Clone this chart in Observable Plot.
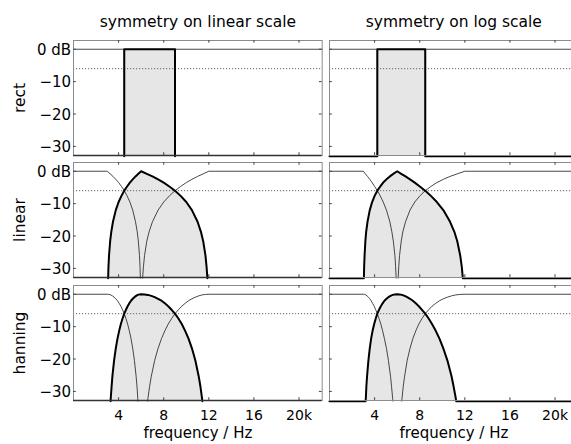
<!DOCTYPE html>
<html><head><meta charset="utf-8">
<script src="https://cdn.jsdelivr.net/npm/d3@7"></script>
<script src="https://cdn.jsdelivr.net/npm/@observablehq/plot@0.6"></script>
<style>
html,body{margin:0;padding:0;background:#fff;overflow:hidden;}
#chart{position:relative;width:571px;height:444px;overflow:hidden;background:#fff;}
#chart svg{position:absolute;overflow:visible;}
</style></head><body><div id="chart"></div>
<script>
// ---- labels / ticks ----
const columnTitles = ["symmetry on linear scale", "symmetry on log scale"];
const rowLabels = ["rect", "linear", "hanning"];
const xTicks = [4, 8, 12, 16, 20];
const xTickLabels = ["4", "8", "12", "16", "20k"];
const yTicks = [0, -10, -20, -30];
const yTickLabels = ["0 dB", "\u221210", "\u221220", "\u221230"];
const xLabel = "frequency / Hz";
const xDomain = [0, 22.05];     // kHz
const yDomain = [-32.8, 2.7];   // dB
const crossoverDb = [-6];
const floorDb = -33;

// ---- rect row ----  [kHz, dB]
const rectLinBand = [[4.5,-33],[4.5,0],[9,0],[9,-33]];
const rectLinLow  = [[0,0],[4.5,0],[4.5,-33]];
const rectLinHigh = [[9,-33],[9,0],[22.05,0]];
const rectLogBand = [[0,-33],[4.24,-33],[4.24,0],[8.49,0],[8.49,-33],[22.05,-33]];
const rectLogLow  = [[0,0],[4.24,0],[4.24,-33]];
const rectLogHigh = [[8.49,-33],[8.49,0],[22.05,0]];

// ---- linear row ----
const linLinBand = [[3.07,-33],[3.1,-29.5],[3.15,-26],[3.25,-21.6],[3.35,-18.7],[3.5,-15.6],[3.75,-12],[4,-9.5],[4.25,-7.6],[4.5,-6],[4.75,-4.7],[5,-3.5],[5.25,-2.5],[5.5,-1.6],[5.75,-0.8],[6,0],[6.5,-0.8],[7,-1.6],[7.5,-2.5],[8,-3.5],[8.5,-4.7],[9,-6],[9.5,-7.6],[10,-9.5],[10.5,-12],[11,-15.6],[11.3,-18.7],[11.5,-21.6],[11.7,-26],[11.8,-29.5],[11.87,-33]];
const linLinLow = [[0,0],[3,0],[3.25,-0.8],[3.5,-1.6],[3.75,-2.5],[4,-3.5],[4.25,-4.7],[4.5,-6],[4.75,-7.6],[5,-9.5],[5.25,-12],[5.5,-15.6],[5.65,-18.7],[5.75,-21.6],[5.85,-26],[5.9,-29.5],[5.93,-33]];
const linLinHigh = [[6.13,-33],[6.2,-29.5],[6.3,-26],[6.5,-21.6],[6.7,-18.7],[7,-15.6],[7.5,-12],[8,-9.5],[8.5,-7.6],[9,-6],[9.5,-4.7],[10,-3.5],[10.5,-2.5],[11,-1.6],[11.5,-0.8],[12,0],[22.05,0]];
const linLogBand = [[0,-33],[3.05,-33],[3.07,-29.5],[3.11,-26],[3.18,-21.6],[3.25,-18.7],[3.37,-15.6],[3.57,-12],[3.78,-9.5],[4,-7.6],[4.24,-6],[4.5,-4.7],[4.76,-3.5],[5.05,-2.5],[5.35,-1.6],[5.66,-0.8],[6,0],[6.36,-0.8],[6.74,-1.6],[7.14,-2.5],[7.56,-3.5],[8.01,-4.7],[8.49,-6],[8.99,-7.6],[9.52,-9.5],[10.09,-12],[10.69,-15.6],[11.07,-18.7],[11.33,-21.6],[11.59,-26],[11.73,-29.5],[11.82,-33],[22.05,-33]];
const linLogLow = [[0,0],[3,0],[3.18,-0.8],[3.37,-1.6],[3.57,-2.5],[3.78,-3.5],[4,-4.7],[4.24,-6],[4.5,-7.6],[4.76,-9.5],[5.05,-12],[5.35,-15.6],[5.53,-18.7],[5.66,-21.6],[5.8,-26],[5.86,-29.5],[5.91,-33]];
const linLogHigh = [[6.09,-33],[6.14,-29.5],[6.21,-26],[6.36,-21.6],[6.5,-18.7],[6.74,-15.6],[7.14,-12],[7.56,-9.5],[8.01,-7.6],[8.49,-6],[8.99,-4.7],[9.52,-3.5],[10.09,-2.5],[10.69,-1.6],[11.33,-0.8],[12,0],[22.05,0]];

// ---- hanning row ----
const hanLinBand = [[3.29,-33],[3.3,-32.2],[3.38,-28.4],[3.45,-25.3],[3.6,-20.4],[3.75,-16.7],[3.9,-13.7],[4.05,-11.3],[4.2,-9.2],[4.35,-7.5],[4.5,-6],[4.65,-4.8],[4.8,-3.7],[4.95,-2.8],[5.1,-2],[5.25,-1.4],[5.4,-0.9],[5.55,-0.5],[5.7,-0.2],[5.85,-0.05],[6,0],[6.3,-0.05],[6.6,-0.2],[6.9,-0.5],[7.2,-0.9],[7.5,-1.4],[7.8,-2],[8.1,-2.8],[8.4,-3.7],[8.7,-4.8],[9,-6],[9.3,-7.5],[9.6,-9.2],[9.9,-11.3],[10.2,-13.7],[10.5,-16.7],[10.8,-20.4],[11.1,-25.3],[11.25,-28.4],[11.4,-32.2],[11.43,-33]];
const hanLinLow = [[0,0],[3,0],[3.15,-0.05],[3.3,-0.2],[3.45,-0.5],[3.6,-0.9],[3.75,-1.4],[3.9,-2],[4.05,-2.8],[4.2,-3.7],[4.35,-4.8],[4.5,-6],[4.65,-7.5],[4.8,-9.2],[4.95,-11.3],[5.1,-13.7],[5.25,-16.7],[5.4,-20.4],[5.55,-25.3],[5.63,-28.4],[5.7,-32.2],[5.71,-33]];
const hanLinHigh = [[6.57,-33],[6.6,-32.2],[6.75,-28.4],[6.9,-25.3],[7.2,-20.4],[7.5,-16.7],[7.8,-13.7],[8.1,-11.3],[8.4,-9.2],[8.7,-7.5],[9,-6],[9.3,-4.8],[9.6,-3.7],[9.9,-2.8],[10.2,-2],[10.5,-1.4],[10.8,-0.9],[11.1,-0.5],[11.4,-0.2],[11.7,-0.05],[12,0],[22.05,0]];
const hanLogBand = [[0,-33],[3.2,-33],[3.22,-32.2],[3.27,-28.4],[3.33,-25.3],[3.45,-20.4],[3.57,-16.7],[3.69,-13.7],[3.82,-11.3],[3.96,-9.2],[4.1,-7.5],[4.24,-6],[4.39,-4.8],[4.55,-3.7],[4.71,-2.8],[4.87,-2],[5.05,-1.4],[5.22,-0.9],[5.41,-0.5],[5.6,-0.2],[5.8,-0.05],[6,0],[6.21,-0.05],[6.43,-0.2],[6.66,-0.5],[6.89,-0.9],[7.14,-1.4],[7.39,-2],[7.65,-2.8],[7.92,-3.7],[8.2,-4.8],[8.49,-6],[8.79,-7.5],[9.09,-9.2],[9.42,-11.3],[9.75,-13.7],[10.09,-16.7],[10.45,-20.4],[10.82,-25.3],[11,-28.4],[11.2,-32.2],[11.23,-33],[22.05,-33]];
const hanLogLow = [[0,0],[3,0],[3.11,-0.05],[3.22,-0.2],[3.33,-0.5],[3.45,-0.9],[3.57,-1.4],[3.69,-2],[3.82,-2.8],[3.96,-3.7],[4.1,-4.8],[4.24,-6],[4.39,-7.5],[4.55,-9.2],[4.71,-11.3],[4.87,-13.7],[5.05,-16.7],[5.22,-20.4],[5.41,-25.3],[5.5,-28.4],[5.6,-32.2],[5.62,-33]];
const hanLogHigh = [[6.41,-33],[6.43,-32.2],[6.54,-28.4],[6.66,-25.3],[6.89,-20.4],[7.14,-16.7],[7.39,-13.7],[7.65,-11.3],[7.92,-9.2],[8.2,-7.5],[8.49,-6],[8.79,-4.8],[9.09,-3.7],[9.42,-2.8],[9.75,-2],[10.09,-1.4],[10.45,-0.9],[10.82,-0.5],[11.2,-0.2],[11.59,-0.05],[12,0],[22.05,0]];

const panels = [
  {col: 0, row: 0, band: rectLinBand, low: rectLinLow, high: rectLinHigh},
  {col: 1, row: 0, band: rectLogBand, low: rectLogLow, high: rectLogHigh},
  {col: 0, row: 1, band: linLinBand, low: linLinLow, high: linLinHigh},
  {col: 1, row: 1, band: linLogBand, low: linLogLow, high: linLogHigh},
  {col: 0, row: 2, band: hanLinBand, low: hanLinLow, high: hanLinHigh},
  {col: 1, row: 2, band: hanLogBand, low: hanLogLow, high: hanLogHigh}
];

// ---- layout ----
const font = "DejaVu Sans";
const panelW = 248.7, panelH = 115;
const svgLeft = [0, 328], marginL = [73, 1];
const svgTop = [0, 161, 284], marginT = [40, 1, 1];
const X = d => d[0], Y = d => d[1];
const tickLenY = 0.85, tickLenX = 0.25;
const container = document.getElementById("chart");

for (const p of panels) {
  const left = p.col === 0, bottom = p.row === 2, top = p.row === 0;
  const mL = marginL[p.col], mT = marginT[p.row], mR = 2, mB = bottom ? 44 : 2;
  const marks = [
    Plot.areaY(p.band, {x: X, y1: () => floorDb, y2: Y, fill: "#e6e6e6"}),
    Plot.ruleY(crossoverDb, {y: d => d, stroke: "#666", strokeWidth: 1, strokeDasharray: "1.2,1.8"}),
    Plot.line(p.low, {x: X, y: Y, stroke: "#333", strokeWidth: 0.9}),
    Plot.line(p.high, {x: X, y: Y, stroke: "#333", strokeWidth: 0.9}),
    Plot.line(p.band, {x: X, y: Y, stroke: "#000", strokeWidth: 2}),
    Plot.frame({stroke: "#8c8c8c", strokeWidth: 1}),
    Plot.ruleX(xTicks, {x: d => d, y1: () => yDomain[0], y2: () => yDomain[0] + tickLenY, stroke: "#444"}),
    Plot.ruleX(xTicks, {x: d => d, y1: () => yDomain[1], y2: () => yDomain[1] - tickLenY, stroke: "#444"}),
    Plot.ruleY(yTicks, {y: d => d, x1: () => xDomain[0], x2: () => xDomain[0] + tickLenX, stroke: "#444"}),
    Plot.ruleY(yTicks, {y: d => d, x1: () => xDomain[1], x2: () => xDomain[1] - tickLenX, stroke: "#444"})
  ];
  if (left) {
    marks.push(Plot.ruleY([yDomain[0]], {y: d => d, stroke: "#333", strokeWidth: 1.5}));
    marks.push(Plot.text(yTicks, {x: () => xDomain[0], y: d => d, text: (d, i) => yTickLabels[i],
      textAnchor: "end", dx: -2.5, dy: 1, fontSize: 15, fill: "#000"}));
    marks.push(Plot.text([rowLabels[p.row]], {x: () => xDomain[0], y: () => (yDomain[0] + yDomain[1]) / 2,
      text: d => d, rotate: -90, dx: -53.5, fontSize: 15.5, fill: "#000"}));
  }
  if (bottom) {
    marks.push(Plot.text(xTicks, {x: d => d, y: () => yDomain[0], text: (d, i) => xTickLabels[i],
      lineAnchor: "top", dy: 9.5, fontSize: 14, fill: "#000"}));
    marks.push(Plot.text([xLabel], {x: () => (xDomain[0] + xDomain[1]) / 2, y: () => yDomain[0], text: d => d,
      lineAnchor: "bottom", dy: 37.5, fontSize: 15, fill: "#000"}));
  }
  if (top) {
    marks.push(Plot.text([columnTitles[p.col]], {x: () => (xDomain[0] + xDomain[1]) / 2, y: () => yDomain[1], text: d => d,
      lineAnchor: "bottom", dy: -13.8, fontSize: 15.5, fill: "#000"}));
  }
  const svg = Plot.plot({
    width: mL + panelW + mR,
    height: mT + panelH + mB,
    marginLeft: mL, marginRight: mR, marginTop: mT, marginBottom: mB,
    x: {domain: xDomain, axis: null},
    y: {domain: yDomain, axis: null},
    style: {fontFamily: font, background: "transparent", overflow: "visible"},
    marks
  });
  svg.style.left = svgLeft[p.col] + "px";
  svg.style.top = svgTop[p.row] + "px";
  container.appendChild(svg);
}
</script></body></html>
